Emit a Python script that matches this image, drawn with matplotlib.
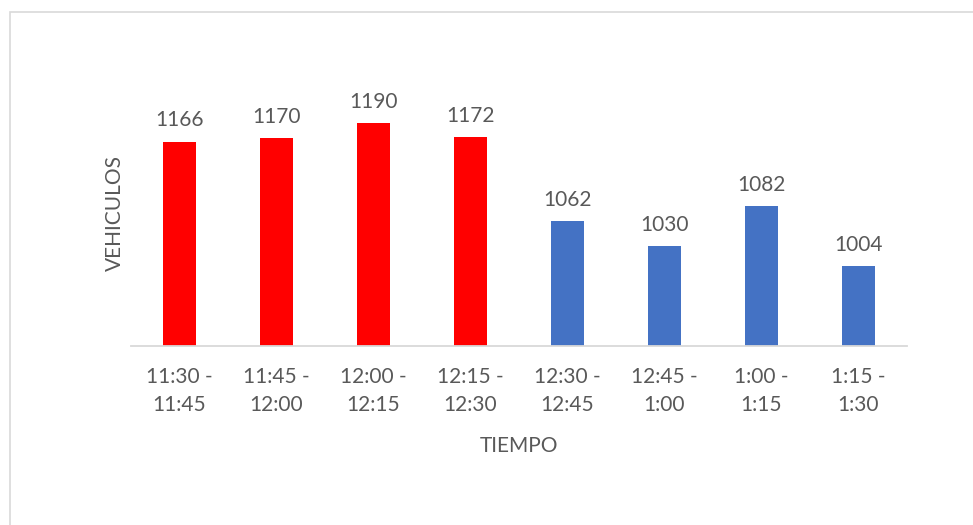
import matplotlib.pyplot as plt
from matplotlib.patches import Rectangle

periods = ['11:30 -\n11:45', '11:45 -\n12:00', '12:00 -\n12:15', '12:15 -\n12:30',
           '12:30 -\n12:45', '12:45 -\n1:00', '1:00 -\n1:15', '1:15 -\n1:30']
vehicles = [1166, 1170, 1190, 1172, 1062, 1030, 1082, 1004]
colors = ['#FF0000'] * 4 + ['#4472C4'] * 4

plt.rcParams['font.family'] = ['Lato', 'DejaVu Sans']
txt = '#595959'

fig = plt.figure(figsize=(9.73, 5.25), dpi=100)
W, H = 973, 525
ax = fig.add_axes([131 / W, 179 / H, 776 / W, 269 / H])

x = range(len(periods))
ax.bar(x, vehicles, width=0.33, color=colors, zorder=2)
for i, v in enumerate(vehicles):
    ax.annotate(str(v), (i, v), xytext=(0, 8), textcoords='offset points',
                ha='center', va='bottom', fontsize=15, color=txt)

ax.set_xlim(-0.5, len(periods) - 0.5)
ax.set_ylim(900, 1250)
ax.set_yticks([])
ax.set_xticks(list(x))
ax.set_xticklabels(periods, fontsize=15, color=txt, linespacing=1.5)
ax.tick_params(axis='x', length=0, pad=15)
for s in ['top', 'right', 'left']:
    ax.spines[s].set_visible(False)
ax.spines['bottom'].set_color('#D9D9D9')
ax.spines['bottom'].set_linewidth(1.3)

fig.text(115 / W, 1 - 213 / H, 'VEHICULOS', rotation=90, ha='center', va='center',
         fontsize=15, color=txt)
fig.text(519 / W, 1 - 446 / H, 'TIEMPO', ha='center', va='center',
         fontsize=15, color=txt)

fig.patches.append(Rectangle((10 / W, -0.1), 1.1, 1 - 12 / H + 0.1, transform=fig.transFigure,
                             fill=False, edgecolor='#D9D9D9', linewidth=1.2))

fig.savefig('out.png', dpi=100)
